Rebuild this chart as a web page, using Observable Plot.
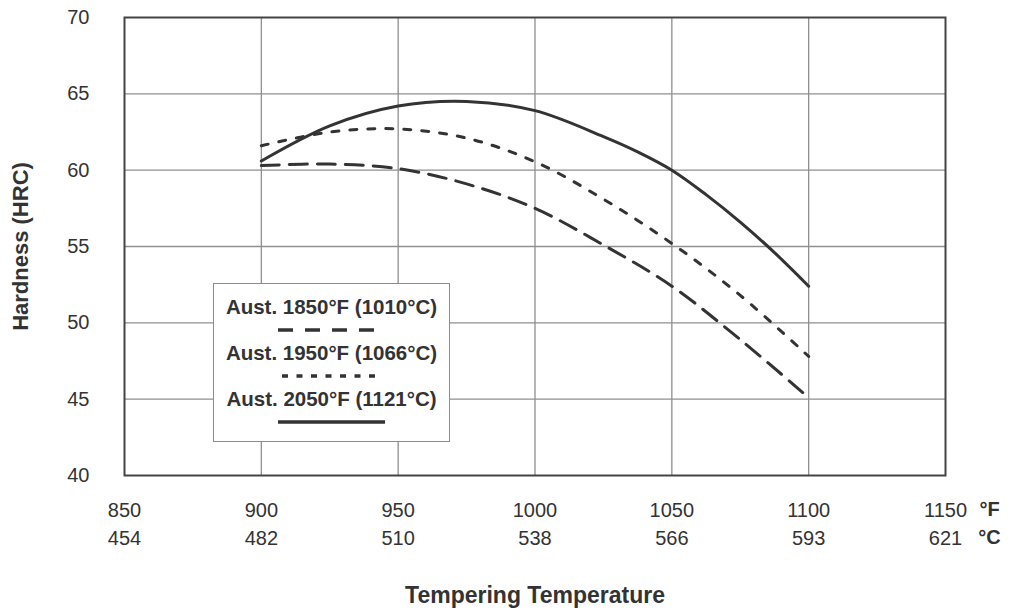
<!DOCTYPE html>
<html>
<head>
<meta charset="utf-8">
<script src="https://cdn.jsdelivr.net/npm/d3@7"></script>
<script src="https://cdn.jsdelivr.net/npm/@observablehq/plot@0.6"></script>
<style>
  html, body { margin: 0; padding: 0; background: #fff; }
  #wrap { position: relative; width: 1020px; height: 610px; font-family: "Liberation Sans", Arial, sans-serif; }
  #legend { position: absolute; left: 213px; top: 283px; width: 237px; height: 159px; background: #fff;
            border: 1.5px solid #8c8c8c; box-sizing: border-box; padding-top: 11px; color: #333; }
  #legend .row { height: 23px; display: flex; align-items: center; justify-content: center;
                 font-weight: bold; font-size: 20.5px; white-space: nowrap; }
</style>
</head>
<body>
<div id="wrap"></div>
<script>
// Tempering temperature (°F) sample points
const tempF = [900, 925, 950, 975, 1000, 1025, 1050, 1075, 1100];
const tempF2050 = [900, 925, 950, 975, 1000, 1025, 1037.5, 1050, 1062.5, 1075, 1087.5, 1100];
// Hardness (HRC) for each austenitizing temperature
const hrc1850 = [60.3, 60.4, 60.1, 59.1, 57.5, 55.1, 52.4, 48.9, 45.1];
const hrc1950 = [61.6, 62.5, 62.7, 62.1, 60.55, 58.1, 55.2, 51.8, 47.8];
const hrc2050 = [60.6, 62.9, 64.2, 64.5, 63.9, 62.2, 61.2, 60.0, 58.4, 56.6, 54.6, 52.4];

const seriesNames = ["Aust. 1850°F (1010°C)", "Aust. 1950°F (1066°C)", "Aust. 2050°F (1121°C)"];

// Axis ticks
const fTicks = [850, 900, 950, 1000, 1050, 1100, 1150];
const cLabels = ["454", "482", "510", "538", "566", "593", "621"];
const yTicks = [40, 45, 50, 55, 60, 65, 70];

const toRows = (temps, vals) => temps.map((t, i) => ({t, h: vals[i]}));
const ink = "#333";

const chart = Plot.plot({
  width: 1020,
  height: 610,
  marginLeft: 124,
  marginRight: 75,
  marginTop: 17,
  marginBottom: 135,
  x: {domain: [850, 1150]},
  y: {domain: [40, 70]},
  style: {fontFamily: "'Liberation Sans', Arial, sans-serif", fontSize: "20px", color: ink, background: "#fff"},
  marks: [
    Plot.gridX(fTicks.slice(1, -1), {stroke: "#8f8f8f", strokeOpacity: 1, strokeWidth: 1.3}),
    Plot.gridY(yTicks.slice(1, -1), {stroke: "#8f8f8f", strokeOpacity: 1, strokeWidth: 1.3}),
    Plot.line(toRows(tempF, hrc1850), {x: "t", y: "h", curve: "catmull-rom", stroke: ink, strokeWidth: 3, strokeDasharray: "18,10"}),
    Plot.line(toRows(tempF, hrc1950), {x: "t", y: "h", curve: "catmull-rom", stroke: ink, strokeWidth: 3, strokeDasharray: "7,11"}),
    Plot.line(toRows(tempF2050, hrc2050), {x: "t", y: "h", curve: "catmull-rom", stroke: ink, strokeWidth: 3}),
    Plot.frame({stroke: "#444", strokeWidth: 2}),
    Plot.axisY(yTicks, {tickSize: 0, tickPadding: 35, label: null, fontSize: 20}),
    Plot.axisX(fTicks, {tickSize: 0, tickPadding: 27, label: null, fontSize: 20, tickFormat: d => String(d)}),
    Plot.axisX(fTicks, {tickSize: 0, tickPadding: 55, label: null, fontSize: 20, tickFormat: d => cLabels[fTicks.indexOf(d)]}),
    Plot.text(["°F"], {x: 1150, frameAnchor: "bottom", dx: 44, dy: 34, lineAnchor: "middle", fontWeight: "bold", fontSize: 20}),
    Plot.text(["°C"], {x: 1150, frameAnchor: "bottom", dx: 44, dy: 62, lineAnchor: "middle", fontWeight: "bold", fontSize: 20}),
    Plot.text(["Tempering Temperature"], {frameAnchor: "bottom", dy: 120, lineAnchor: "middle", fontWeight: "bold", fontSize: 23}),
    Plot.text(["Hardness (HRC)"], {x: 850, y: 55, dx: -104, rotate: -90, lineAnchor: "middle", fontWeight: "bold", fontSize: 22})
  ]
});

const wrap = document.getElementById("wrap");
wrap.appendChild(chart);

// Legend box overlaid inside the plot area
const dashes = ["15,12", "6,8.5", null];
const widths = [107, 100, 107];
const legend = document.createElement("div");
legend.id = "legend";
seriesNames.forEach((name, i) => {
  const r = document.createElement("div");
  r.className = "row";
  r.textContent = name;
  legend.appendChild(r);
  const s = document.createElement("div");
  s.className = "row";
  const w = widths[i];
  s.innerHTML = `<svg width="${w}" height="6"><line x1="0" y1="3" x2="${w}" y2="3" stroke="${ink}" stroke-width="3.5" ${dashes[i] ? `stroke-dasharray="${dashes[i]}"` : ""}/></svg>`;
  legend.appendChild(s);
});
wrap.appendChild(legend);
</script>
</body>
</html>
